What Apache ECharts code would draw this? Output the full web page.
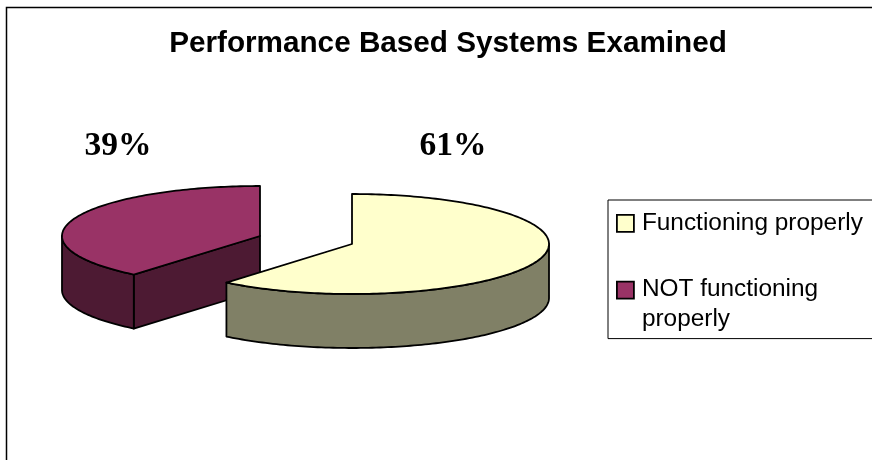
<!DOCTYPE html>
<html><head><meta charset="utf-8">
<style>html,body{margin:0;padding:0;background:#fff}#c{width:872px;height:460px}</style>
<script src="https://cdn.jsdelivr.net/npm/echarts@6/dist/echarts.min.js"></script>
</head><body><div id="c"></div>
<script>
const chartTitle = 'Performance Based Systems Examined';
const categories = ['Functioning properly', 'NOT functioning properly'];
const shares = [61, 39];
const topColors = ['#FFFFCC', '#993366'];
const sideColors = ['#808066', '#4D1A33'];

// Layout of the extruded pie (pixels): one entry per slice, not data.
const layout = [
  { cx: 352, cy: 244, rx: 197, label: [453, 146] },
  { cx: 260, cy: 236, rx: 198, label: [118, 146] }
];
const RY = 50, DEPTH = 54;
const STROKE = '#000', LW = 1.8;

const total = shares.reduce((a, b) => a + b, 0);
const startFrac = shares.map((_, i) => shares.slice(0, i).reduce((a, b) => a + b, 0) / total);

function pt(l, a, dy) {
  return [l.cx + l.rx * Math.sin(a), l.cy - RY * Math.cos(a) + (dy || 0)];
}
function arc(l, a0, a1, dy) {
  const n = Math.max(2, Math.ceil(Math.abs(a1 - a0) / 0.02));
  const out = [];
  for (let k = 0; k <= n; k++) out.push(pt(l, a0 + (a1 - a0) * k / n, dy));
  return out;
}
function poly(points, fill) {
  return { type: 'polygon', shape: { points }, style: { fill, stroke: STROKE, lineWidth: LW, lineJoin: 'round' } };
}
function renderSlice(i) {
  return function () {
    const l = layout[i];
    const a0 = startFrac[i] * 2 * Math.PI;
    const a1 = a0 + shares[i] / total * 2 * Math.PI;
    const children = [];
    const side = sideColors[i];
    const apexB = [l.cx, l.cy + DEPTH];
    // radial wall of the opening cut, when it faces the viewer
    if (Math.cos(a0) < 0 && Math.sin(a0) < 0) {
      children.push(poly([[l.cx, l.cy], pt(l, a0), pt(l, a0, DEPTH), apexB], side));
    }
    // outer wall: only the part in front of the viewer (90deg..270deg clockwise from top)
    const w0 = Math.max(a0, Math.PI / 2), w1 = Math.min(a1, 1.5 * Math.PI);
    if (w1 > w0) {
      children.push(poly(arc(l, w0, w1, 0).concat(arc(l, w1, w0, DEPTH)), side));
    }
    // top face
    children.push(poly([[l.cx, l.cy]].concat(arc(l, a0, a1, 0)), topColors[i]));
    return {
      type: 'group',
      children: children.concat([{
        type: 'text',
        style: {
          x: l.label[0], y: l.label[1], text: shares[i] + '%', align: 'center', verticalAlign: 'middle',
          font: 'bold 33.5px "Liberation Serif"', fill: '#000'
        }
      }])
    };
  };
}
// Purple slice is drawn first so the yellow one overlaps it.
const order = [1, 0];
const series = order.map(i => ({
  type: 'custom',
  name: categories[i],
  coordinateSystem: 'none',
  silent: true,
  animation: false,
  clip: false,
  itemStyle: { color: topColors[i] },
  data: [shares[i]],
  renderItem: renderSlice(i)
}));

const iconPath = 'path://M0 7H17V24H0Z M0 0L0 0 M20 60L20 60';
const chart = echarts.init(document.getElementById('c'), null, { renderer: 'canvas' });
chart.setOption({
  animation: false,
  backgroundColor: '#fff',
  title: {
    text: chartTitle, left: 443, top: 24, textAlign: 'center',
    textStyle: { fontFamily: '"Liberation Sans"', fontWeight: 'bold', fontSize: 29.7, color: '#000' }
  },
  legend: {
    orient: 'vertical', left: 608, top: 200,
    padding: [7, 20, 3, 8],
    borderColor: '#000', borderWidth: 1,
    selectedMode: false,
    itemWidth: 20, itemHeight: 60, itemGap: 5,
    data: categories.map((name, i) => ({
      name, icon: iconPath,
      itemStyle: { color: topColors[i], borderColor: '#000', borderWidth: 1.8 }
    })),
    formatter: n => n === categories[1] ? 'NOT functioning\nproperly' : n + '\n ',
    textStyle: { fontFamily: '"Liberation Sans"', fontSize: 24.4, lineHeight: 30, color: '#000' }
  },
  graphic: [{
    type: 'rect', silent: true, z: -1,
    shape: { x: 6.5, y: 7.5, width: 900, height: 500 },
    style: { fill: '#fff', stroke: '#000', lineWidth: 1.5 }
  }],
  series
});
</script></body></html>
